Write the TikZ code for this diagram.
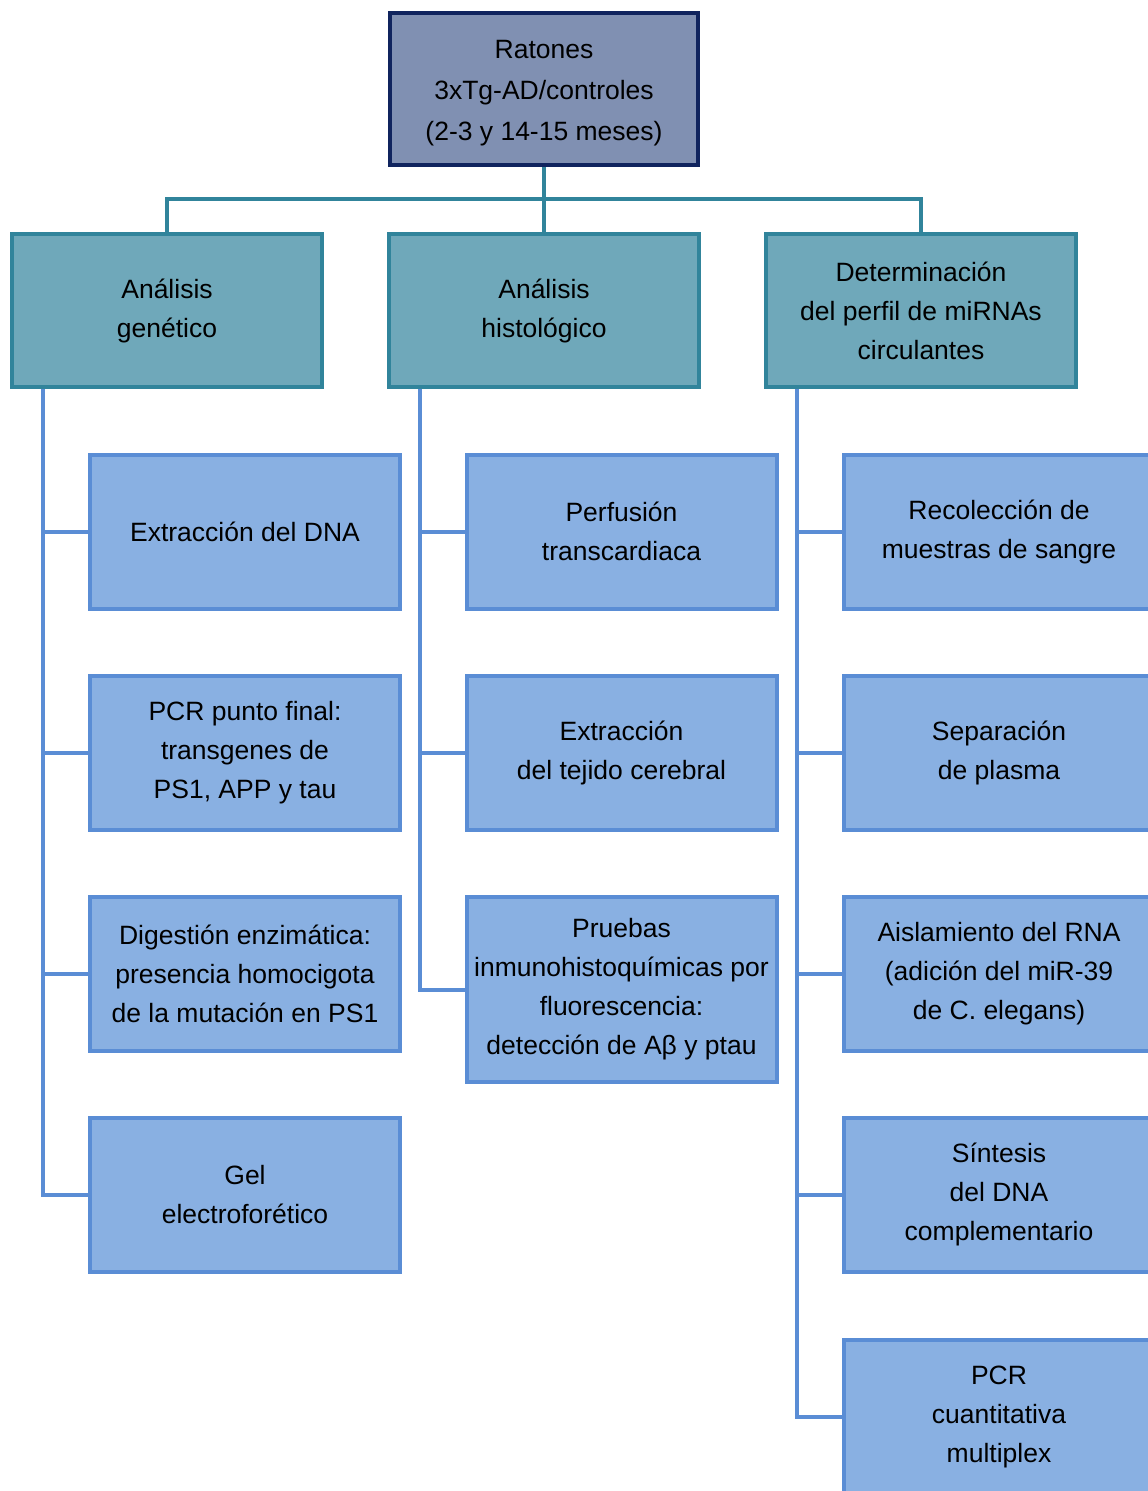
\documentclass[tikz,border=0pt]{standalone}
\usepackage{fontspec}
\setmainfont{Liberation Sans}
\definecolor{topfill}{HTML}{8090B2}
\definecolor{topline}{HTML}{10245E}
\definecolor{midfill}{HTML}{6FA8BA}
\definecolor{midline}{HTML}{31849B}
\definecolor{lowfill}{HTML}{89B0E2}
\definecolor{lowline}{HTML}{5A8DD5}
\tikzset{
  base/.style={rectangle, align=center, inner sep=0pt, font=\fontsize{26.5}{39}\selectfont, text=black},
  topbox/.style={base, draw=topline, fill=topfill, line width=4.5pt, minimum width=308pt, minimum height=152pt, font=\fontsize{26.5}{41}\selectfont},
  midbox/.style={base, draw=midline, fill=midfill, line width=4pt, minimum width=310pt, minimum height=153pt},
  lowbox/.style={base, draw=lowline, fill=lowfill, line width=4pt, minimum width=310pt, minimum height=154pt},
  bus/.style={draw=midline, line width=4pt},
  twig/.style={draw=lowline, line width=4pt},
}
\begin{document}
\begin{tikzpicture}[x=1pt, y=-1pt]
\useasboundingbox (0,0) rectangle (1148,1491);
\clip (0,0) rectangle (1148,1491);
\fill[white] (0,0) rectangle (1148,1491);

\coordinate (busc) at (544,199);

\node[topbox] (top) at (544,89) {\rule{0pt}{26pt}Ratones\\3xTg-AD/controles\\(2-3 y 14-15 meses)};
\node[midbox] (gen) at (167,310.5) {Análisis\\genético};
\node[midbox] (his) at (544,310.5) {Análisis\\histológico};
\node[midbox] (mir) at (921,310.5) {Determinación\\del perfil de miRNAs\\circulantes};

\node[lowbox] (g1) at (245,531.5) {Extracción del DNA};
\node[lowbox] (g2) at (245,752.5) {PCR punto final:\\transgenes de\\PS1, APP y tau};
\node[lowbox] (g3) at (245,973.5) {Digestión enzimática:\\presencia homocigota\\de la mutación en PS1};
\node[lowbox] (g4) at (245,1194.5) {Gel\\electroforético};

\node[lowbox] (h1) at (621.5,531.5) {Perfusión\\transcardiaca};
\node[lowbox] (h2) at (621.5,752.5) {Extracción\\del tejido cerebral};
\node[lowbox, minimum height=185pt] (h3) at (621.5,989.5) {Pruebas\\inmunohistoquímicas por\\fluorescencia:\\detección de Aβ y ptau};

\node[lowbox] (m1) at (999,531.5) {Recolección de\\muestras de sangre};
\node[lowbox] (m2) at (999,752.5) {Separación\\de plasma};
\node[lowbox] (m3) at (999,973.5) {Aislamiento del RNA\\(adición del miR-39\\de C. elegans)};
\node[lowbox] (m4) at (999,1194.5) {Síntesis\\del DNA\\complementario};
\node[lowbox] (m5) at (999,1416.5) {PCR\\cuantitativa\\multiplex};

% bus from top
\draw[bus] (top.south) -- (busc);
\draw[bus] (gen.north) -- (gen.north |- busc) -- (mir.north |- busc) -- (mir.north);
\draw[bus] (busc) -- (his.north);

% twigs
\coordinate (gx) at (43,389);
\coordinate (hx) at (420,389);
\coordinate (mx) at (797,389);
\draw[twig] (gx) |- (g4.west);
\foreach \n in {g1,g2,g3} \draw[twig] (gx |- \n.west) -- (\n.west);
\draw[twig] (hx) |- (h3.west);
\foreach \n in {h1,h2} \draw[twig] (hx |- \n.west) -- (\n.west);
\draw[twig] (mx) |- (m5.west);
\foreach \n in {m1,m2,m3,m4} \draw[twig] (mx |- \n.west) -- (\n.west);
\end{tikzpicture}
\end{document}
